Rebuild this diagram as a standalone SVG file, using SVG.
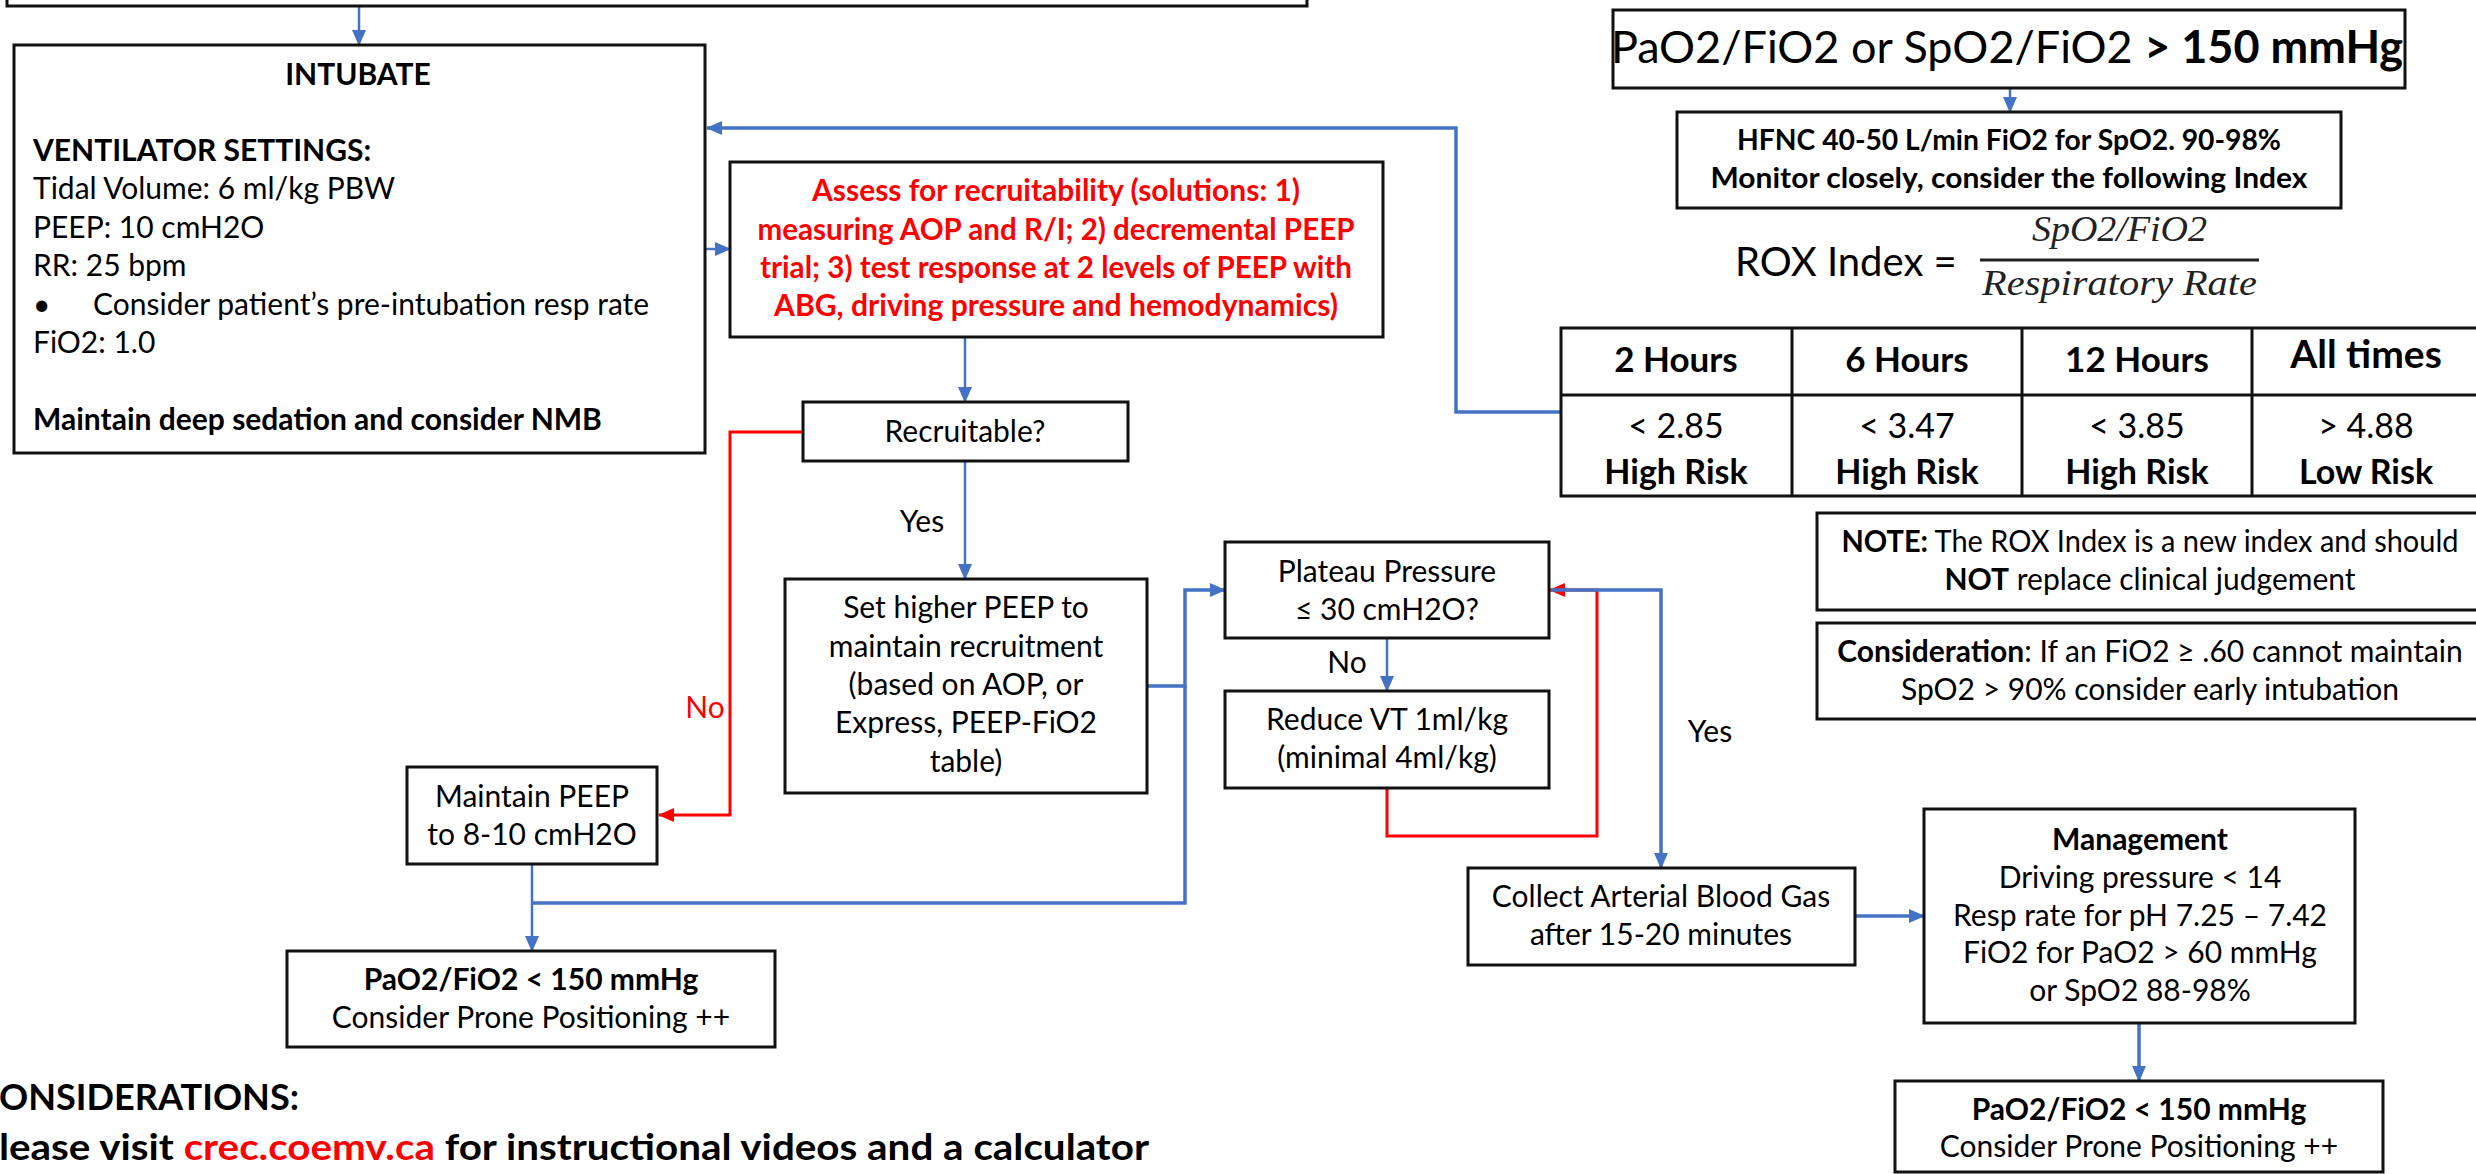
<svg xmlns="http://www.w3.org/2000/svg" width="2476" height="1174" viewBox="0 0 2476 1174">
<defs>
<style>
.t{font-family:Lato,"Open Sans","Liberation Sans",sans-serif;font-size:30px;fill:#000}
.b{font-weight:bold}
.c{text-anchor:middle}
.red{fill:#FF0000}
.box{fill:#fff;stroke:#111;stroke-width:3}
.bl{fill:none;stroke:#4472C4;stroke-width:2.5}
.blt{fill:none;stroke:#4472C4;stroke-width:3.5}
.rd{fill:none;stroke:#FF0000;stroke-width:3}
.math{font-family:"Liberation Serif","DejaVu Serif",serif;font-style:italic;font-size:36px;fill:#222}
</style>
<marker id="ab" markerUnits="userSpaceOnUse" markerWidth="16" markerHeight="14" refX="15" refY="7" orient="auto"><path d="M0,0 L16,7 L0,14 z" fill="#4472C4"/></marker>
<marker id="ar" markerUnits="userSpaceOnUse" markerWidth="16" markerHeight="14" refX="15" refY="7" orient="auto"><path d="M0,0 L16,7 L0,14 z" fill="#FF0000"/></marker>
</defs>
<rect width="2476" height="1174" fill="#fff"/>

<g id="connectors">
<path class="bl" d="M359,6 V45" marker-end="url(#ab)"/>
<path class="bl" d="M705,249 H730" marker-end="url(#ab)"/>
<path class="blt" d="M1561,412 H1456 V128 H707" marker-end="url(#ab)"/>
<path class="bl" d="M965,337 V402" marker-end="url(#ab)"/>
<path class="rd" d="M803,432 H730 V815 H659" marker-end="url(#ar)"/>
<path class="bl" d="M965,461 V579" marker-end="url(#ab)"/>
<path class="blt" d="M1147,686 H1185 V590 H1225" marker-end="url(#ab)"/>
<path class="blt" d="M532,903 H1185 V686"/>
<path class="bl" d="M532,864 V951" marker-end="url(#ab)"/>
<path class="bl" d="M1387,638 V691" marker-end="url(#ab)"/>
<path class="rd" d="M1387,788 V836 H1597 V590 H1550" marker-end="url(#ar)"/>
<path class="blt" d="M1551,590 H1661 V868" marker-end="url(#ab)"/>
<path class="blt" d="M1855,916 H1924" marker-end="url(#ab)"/>
<path class="blt" d="M2139,1023 V1081" marker-end="url(#ab)"/>
<path class="bl" d="M2010,88 V112" marker-end="url(#ab)"/>
<text class="t c" x="922" y="532">Yes</text>
<text class="t c red" x="705" y="718">No</text>
<text class="t c" x="1347" y="673">No</text>
<text class="t c" x="1710" y="742">Yes</text>
</g>

<g id="top-box">
<rect class="box" x="7" y="-20" width="1300" height="26"/>
</g>

<g id="intubate">
<rect class="box" x="14" y="45" width="691" height="408"/>
<text class="t b c" x="358" y="85">INTUBATE</text>
<text class="t b" x="33" y="161">VENTILATOR SETTINGS:</text>
<text class="t" x="33" y="199">Tidal Volume: 6 ml/kg PBW</text>
<text class="t" x="33" y="238">PEEP: 10 cmH2O</text>
<text class="t" x="33" y="276">RR: 25 bpm</text>
<text class="t" x="33" y="315">•</text>
<text class="t" x="93" y="315">Consider patient’s pre-intubation resp rate</text>
<text class="t" x="33" y="353">FiO2: 1.0</text>
<text class="t b" x="33" y="430">Maintain deep sedation and consider NMB</text>
</g>

<g id="assess">
<rect class="box" x="730" y="162" width="653" height="175"/>
<text class="t b c red" x="1056" y="201" textLength="488" lengthAdjust="spacingAndGlyphs">Assess for recruitability (solutions: 1)</text>
<text class="t b c red" x="1056" y="240" textLength="597" lengthAdjust="spacingAndGlyphs">measuring AOP and R/I; 2) decremental PEEP</text>
<text class="t b c red" x="1056" y="278" textLength="592" lengthAdjust="spacingAndGlyphs">trial; 3) test response at 2 levels of PEEP with</text>
<text class="t b c red" x="1056" y="316" textLength="564" lengthAdjust="spacingAndGlyphs">ABG, driving pressure and hemodynamics)</text>
</g>

<g id="recruitable">
<rect class="box" x="803" y="402" width="325" height="59"/>
<text class="t c" x="965" y="442">Recruitable?</text>
</g>

<g id="set-higher">
<rect class="box" x="785" y="579" width="362" height="214"/>
<text class="t c" x="966" y="618">Set higher PEEP to</text>
<text class="t c" x="966" y="657">maintain recruitment</text>
<text class="t c" x="966" y="695">(based on AOP, or</text>
<text class="t c" x="966" y="733">Express, PEEP-FiO2</text>
<text class="t c" x="966" y="772">table)</text>
</g>

<g id="maintain-peep">
<rect class="box" x="407" y="767" width="250" height="97"/>
<text class="t c" x="532" y="807">Maintain PEEP</text>
<text class="t c" x="532" y="845">to 8-10 cmH2O</text>
</g>

<g id="prone-left">
<rect class="box" x="287" y="951" width="488" height="96"/>
<text class="t b c" x="531" y="990">PaO2/FiO2 &lt; 150 mmHg</text>
<text class="t c" x="531" y="1028">Consider Prone Positioning ++</text>
</g>

<g id="considerations">
<text class="t b" x="-1" y="1110" style="font-size:36px" textLength="300" lengthAdjust="spacingAndGlyphs">ONSIDERATIONS:</text>
<text class="t b" x="-1" y="1160" style="font-size:36px" textLength="1150" lengthAdjust="spacingAndGlyphs">lease visit <tspan class="red">crec.coemv.ca</tspan> for instructional videos and a calculator</text>
</g>

<g id="plateau">
<rect class="box" x="1225" y="542" width="324" height="96"/>
<text class="t c" x="1387" y="582">Plateau Pressure</text>
<text class="t c" x="1387" y="620">≤ 30 cmH2O?</text>
</g>

<g id="reduce-vt">
<rect class="box" x="1225" y="691" width="324" height="97"/>
<text class="t c" x="1387" y="730">Reduce VT 1ml/kg</text>
<text class="t c" x="1387" y="768">(minimal 4ml/kg)</text>
</g>

<g id="collect-abg">
<rect class="box" x="1468" y="868" width="387" height="97"/>
<text class="t c" x="1661" y="907">Collect Arterial Blood Gas</text>
<text class="t c" x="1661" y="945">after 15-20 minutes</text>
</g>

<g id="management">
<rect class="box" x="1924" y="809" width="431" height="214"/>
<text class="t b c" x="2140" y="850">Management</text>
<text class="t c" x="2140" y="888">Driving pressure &lt; 14</text>
<text class="t c" x="2140" y="926">Resp rate for pH 7.25 – 7.42</text>
<text class="t c" x="2140" y="963">FiO2 for PaO2 &gt; 60 mmHg</text>
<text class="t c" x="2140" y="1001">or SpO2 88-98%</text>
</g>

<g id="prone-right">
<rect class="box" x="1895" y="1081" width="488" height="91"/>
<text class="t b c" x="2139" y="1120">PaO2/FiO2 &lt; 150 mmHg</text>
<text class="t c" x="2139" y="1157">Consider Prone Positioning ++</text>
</g>

<g id="top-right">
<rect class="box" x="1613" y="10" width="792" height="78"/>
<text class="t c" x="2007" y="63" style="font-size:45px">PaO2/FiO2 or SpO2/FiO2 <tspan class="b">&gt; 150 mmHg</tspan></text>
</g>

<g id="hfnc">
<rect class="box" x="1677" y="112" width="664" height="96"/>
<text class="t b c" x="2009" y="150" style="font-size:28px" textLength="544" lengthAdjust="spacingAndGlyphs">HFNC 40-50 L/min FiO2 for SpO2. 90-98%</text>
<text class="t b c" x="2009" y="188" style="font-size:28px" textLength="597" lengthAdjust="spacingAndGlyphs">Monitor closely, consider the following Index</text>
</g>

<g id="rox-formula">
<text class="t" x="1735" y="276" style="font-size:40px">ROX Index =</text>
<text class="math" x="2032" y="241" textLength="175" lengthAdjust="spacingAndGlyphs">SpO2/FiO2</text>
<line x1="1980" y1="260" x2="2259" y2="260" stroke="#222" stroke-width="3"/>
<text class="math" x="1982" y="295" textLength="275" lengthAdjust="spacingAndGlyphs">Respiratory Rate</text>
</g>

<g id="rox-table">
<rect x="1561" y="328" width="920" height="168" fill="#fff" stroke="#111" stroke-width="3"/>
<line x1="1561" y1="395" x2="2481" y2="395" stroke="#111" stroke-width="3"/>
<line x1="1792" y1="328" x2="1792" y2="496" stroke="#111" stroke-width="3"/>
<line x1="2022" y1="328" x2="2022" y2="496" stroke="#111" stroke-width="3"/>
<line x1="2252" y1="328" x2="2252" y2="496" stroke="#111" stroke-width="3"/>
<text class="t b c" x="1676" y="372" style="font-size:35px">2 Hours</text>
<text class="t b c" x="1907" y="372" style="font-size:35px">6 Hours</text>
<text class="t b c" x="2137" y="372" style="font-size:35px">12 Hours</text>
<text class="t b c" x="2366" y="368" style="font-size:39px">All times</text>
<text class="t c" x="1676" y="438" style="font-size:34px">&lt; 2.85</text>
<text class="t c" x="1907" y="438" style="font-size:34px">&lt; 3.47</text>
<text class="t c" x="2137" y="438" style="font-size:34px">&lt; 3.85</text>
<text class="t c" x="2366" y="438" style="font-size:34px">&gt; 4.88</text>
<text class="t b c" x="1676" y="484" style="font-size:34px">High Risk</text>
<text class="t b c" x="1907" y="484" style="font-size:34px">High Risk</text>
<text class="t b c" x="2137" y="484" style="font-size:34px">High Risk</text>
<text class="t b c" x="2366" y="484" style="font-size:34px">Low Risk</text>
</g>

<g id="note">
<rect class="box" x="1817" y="513" width="666" height="97"/>
<text class="t c" x="2150" y="552" textLength="617" lengthAdjust="spacingAndGlyphs"><tspan class="b">NOTE:</tspan> The ROX Index is a new index and should</text>
<text class="t c" x="2150" y="590"><tspan class="b">NOT</tspan> replace clinical judgement</text>
</g>

<g id="consideration">
<rect class="box" x="1817" y="623" width="666" height="96"/>
<text class="t c" x="2150" y="662"><tspan class="b">Consideration</tspan>: If an FiO2 ≥ .60 cannot maintain</text>
<text class="t c" x="2150" y="700">SpO2 &gt; 90% consider early intubation</text>
</g>
</svg>
